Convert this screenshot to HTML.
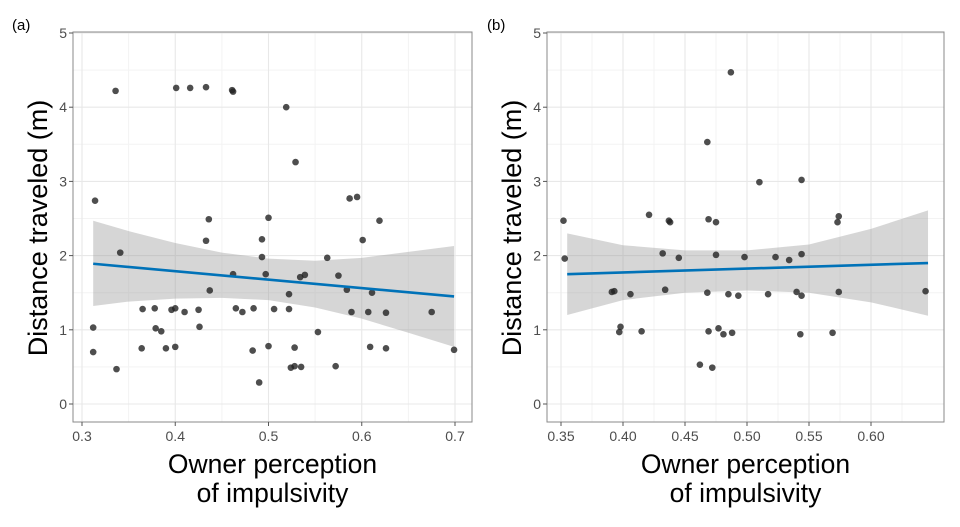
<!DOCTYPE html>
<html><head><meta charset="utf-8"><style>
html,body{margin:0;padding:0;background:#fff;}
svg{display:block;font-family:"Liberation Sans",Arial,sans-serif;}
</style></head><body>
<svg id="chart" width="960" height="527" viewBox="0 0 960 527" xmlns="http://www.w3.org/2000/svg"></svg>
<script>
// Panel (a) data
const aX = [0.314,0.312,0.312,0.336,0.337,0.341,0.365,0.364,0.378,0.379,0.385,0.39,0.396,0.4,0.4,0.401,0.416,0.433,0.41,0.425,0.426,0.433,0.436,0.437,0.461,0.462,0.462,0.465,0.472,0.484,0.483,0.49,0.493,0.493,0.5,0.497,0.5,0.506,0.519,0.529,0.522,0.522,0.528,0.524,0.528,0.535,0.534,0.539,0.553,0.563,0.572,0.575,0.584,0.587,0.595,0.589,0.601,0.607,0.611,0.609,0.619,0.626,0.626,0.675,0.699];
const aY = [2.74,1.03,0.70,4.22,0.47,2.04,1.28,0.75,1.29,1.02,0.98,0.75,1.27,1.29,0.77,4.26,4.26,4.27,1.24,1.27,1.04,2.20,2.49,1.53,4.23,4.21,1.75,1.29,1.24,1.29,0.72,0.29,1.98,2.22,2.51,1.75,0.78,1.28,4.00,3.26,1.48,1.28,0.76,0.49,0.51,0.50,1.71,1.74,0.97,1.97,0.51,1.73,1.54,2.77,2.79,1.24,2.21,1.24,1.50,0.77,2.47,1.23,0.75,1.24,0.73];
const aFitX = [0.312,0.699];
const aFitY = [1.89,1.45];
const aBandX = [0.312,0.35,0.4,0.45,0.5,0.55,0.6,0.65,0.699];
const aBandHi = [2.47,2.33,2.17,2.04,1.96,1.93,1.97,2.05,2.13];
const aBandLo = [1.32,1.38,1.42,1.43,1.40,1.30,1.15,0.96,0.77];
const aXTicks = [0.3,0.4,0.5,0.6,0.7];
const aXLabels = ["0.3","0.4","0.5","0.6","0.7"];
// Panel (b) data
const bX = [0.487,0.468,0.352,0.353,0.421,0.438,0.437,0.469,0.475,0.432,0.445,0.475,0.498,0.391,0.393,0.406,0.434,0.468,0.485,0.493,0.398,0.397,0.415,0.469,0.477,0.481,0.488,0.462,0.472,0.510,0.544,0.574,0.573,0.523,0.534,0.544,0.517,0.540,0.544,0.574,0.644,0.543,0.569];
const bY = [4.47,3.53,2.47,1.96,2.55,2.45,2.47,2.49,2.45,2.03,1.97,2.01,1.98,1.51,1.52,1.48,1.54,1.50,1.48,1.46,1.04,0.97,0.98,0.98,1.02,0.94,0.96,0.53,0.49,2.99,3.02,2.53,2.45,1.98,1.94,2.02,1.48,1.51,1.46,1.51,1.52,0.94,0.96];
const bFitX = [0.355,0.646];
const bFitY = [1.75,1.90];
const bBandX = [0.355,0.4,0.45,0.5,0.55,0.6,0.646];
const bBandHi = [2.30,2.14,2.07,2.07,2.15,2.36,2.61];
const bBandLo = [1.20,1.40,1.50,1.53,1.50,1.37,1.19];
const bXTicks = [0.35,0.4,0.45,0.5,0.55,0.6];
const bXLabels = ["0.35","0.40","0.45","0.50","0.55","0.60"];
const yTicks = [0,1,2,3,4,5];
const yLabels = ["0","1","2","3","4","5"];

const NS="http://www.w3.org/2000/svg";
const svg=document.getElementById('chart');
function mk(tag,attrs,parent){const e=document.createElementNS(NS,tag);for(const k in attrs)e.setAttribute(k,attrs[k]);(parent||svg).appendChild(e);return e;}
const yPx=v=>404-v*74.2;

function panel(cfg){
  const g=mk('g',{});
  
  
  const xPx=v=>cfg.x0+(v-cfg.v0)*cfg.k;
  const L=cfg.left,R=cfg.right,T=32,B=422;
  for(let i=0;i<yTicks.length-1;i++){const yy=yPx((yTicks[i]+yTicks[i+1])/2);mk('line',{x1:L,x2:R,y1:yy,y2:yy,stroke:'#f3f3f3','stroke-width':1},g);}
  const step=cfg.xt[1]-cfg.xt[0];
  const mins=[cfg.xt[0]-step/2];for(let i=0;i<cfg.xt.length;i++)mins.push(cfg.xt[i]+step/2);
  mins.forEach(v=>{const xx=xPx(v);if(xx>L&&xx<R)mk('line',{x1:xx,x2:xx,y1:T,y2:B,stroke:'#f3f3f3','stroke-width':1},g);});
  yTicks.forEach(v=>{const yy=yPx(v);mk('line',{x1:L,x2:R,y1:yy,y2:yy,stroke:'#e8e8e8','stroke-width':1.1},g);});
  cfg.xt.forEach(v=>{const xx=xPx(v);mk('line',{x1:xx,x2:xx,y1:T,y2:B,stroke:'#e8e8e8','stroke-width':1.1},g);});
  let d='';cfg.bx.forEach((v,i)=>{d+=(i?'L':'M')+xPx(v)+','+yPx(cfg.bh[i]);});
  for(let i=cfg.bx.length-1;i>=0;i--)d+='L'+xPx(cfg.bx[i])+','+yPx(cfg.bl[i]);
  const band=mk('path',{d:d+'Z',fill:'#999','fill-opacity':0.4},g);
  
  
  cfg.px.forEach((v,i)=>{const c=mk('circle',{cx:xPx(v),cy:yPx(cfg.py[i]),r:3.3,fill:'#222','fill-opacity':0.8},g);
    
    });
  const ln=mk('line',{x1:xPx(cfg.fx[0]),y1:yPx(cfg.fy[0]),x2:xPx(cfg.fx[1]),y2:yPx(cfg.fy[1]),stroke:'#0072b8','stroke-width':2.6},g);
  
  
  mk('rect',{x:L,y:T,width:R-L,height:B-T,fill:'none',stroke:'#8a8a8a','stroke-width':1},g);
  yTicks.forEach((v,i)=>{const yy=yPx(v);mk('line',{x1:L-4,x2:L,y1:yy,y2:yy,stroke:'#555'},g);
    const t=mk('text',{x:L-6,y:yy+5,'text-anchor':'end','font-size':14,fill:'#4d4d4d'},g);t.textContent=yLabels[i];
    
    });
  cfg.xt.forEach((v,i)=>{const xx=xPx(v);mk('line',{x1:xx,x2:xx,y1:B,y2:B+4,stroke:'#555'},g);
    const t=mk('text',{x:xx,y:441,'text-anchor':'middle','font-size':14,fill:'#4d4d4d'},g);t.textContent=cfg.xl[i];
    
    });
  const cx=(L+R)/2;
  const t1=mk('text',{x:cx,y:473,'text-anchor':'middle','font-size':26.5,fill:'#000'},g);t1.textContent='Owner perception';
  
  
  const t2=mk('text',{x:cx,y:502,'text-anchor':'middle','font-size':26.5,fill:'#000'},g);t2.textContent='of impulsivity';
  
  
  const yt=mk('text',{x:0,y:0,'text-anchor':'middle','font-size':27,fill:'#000',transform:'translate('+(cfg.left-26)+',228) rotate(-90)'},g);yt.textContent='Distance traveled (m)';
  
  
  const lb=mk('text',{x:cfg.labX,y:30,'font-size':15,fill:'#000'},g);lb.textContent=cfg.tag;
  
  
}
panel({name:'panel-a',left:73,right:472,x0:82,v0:0.3,k:932.5,xt:aXTicks,xl:aXLabels,px:aX,py:aY,fx:aFitX,fy:aFitY,bx:aBandX,bh:aBandHi,bl:aBandLo,tag:'(a)',labX:12});
panel({name:'panel-b',left:547,right:944,x0:561,v0:0.35,k:1240,xt:bXTicks,xl:bXLabels,px:bX,py:bY,fx:bFitX,fy:bFitY,bx:bBandX,bh:bBandHi,bl:bBandLo,tag:'(b)',labX:487});
</script>
</body></html>
